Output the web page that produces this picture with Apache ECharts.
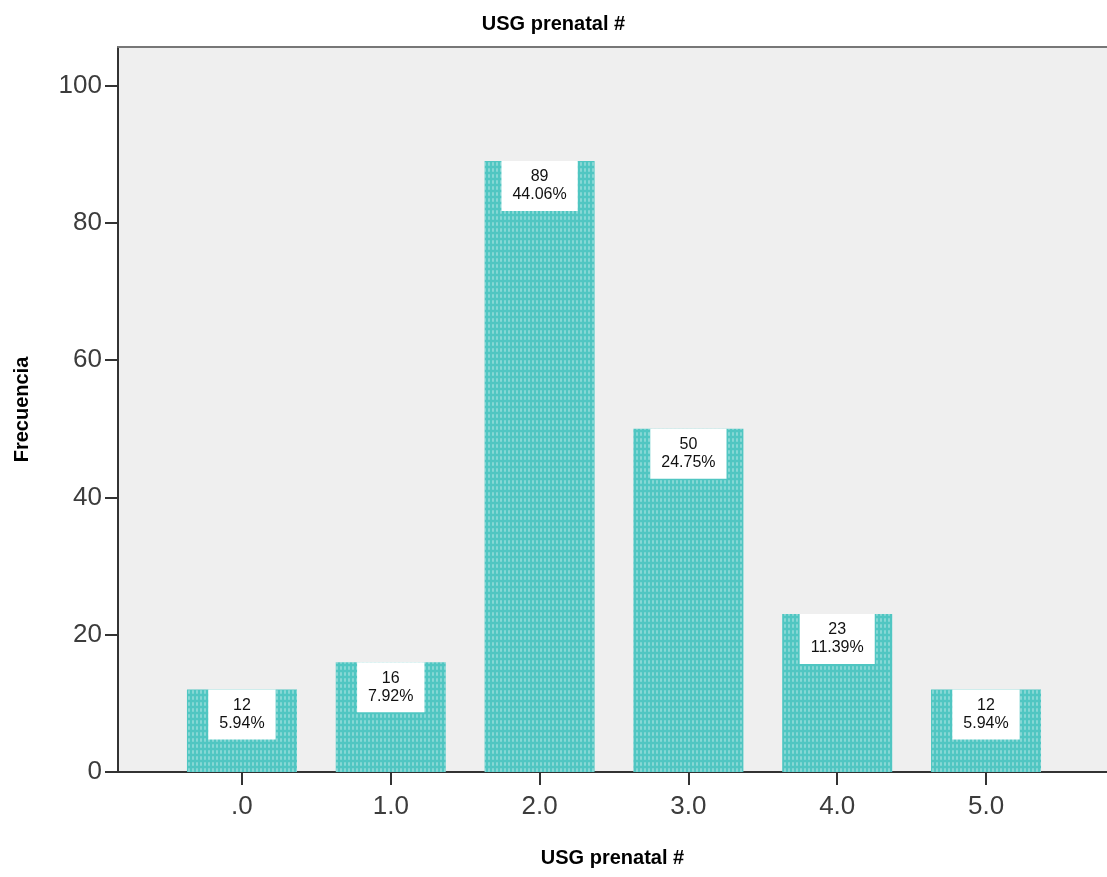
<!DOCTYPE html>
<html>
<head>
<meta charset="utf-8">
<script src="https://cdn.jsdelivr.net/npm/echarts@6/dist/echarts.min.js"></script>
<style>html,body{margin:0;padding:0;background:#fff}#c{width:1107px;height:877px}</style>
</head>
<body>
<div id="c"></div>
<script>
const categories = [0, 1, 2, 3, 4, 5];
const tickLabels = ['.0', '1.0', '2.0', '3.0', '4.0', '5.0'];
const counts = [12, 16, 89, 50, 23, 12];
const percents = ['5.94%', '7.92%', '44.06%', '24.75%', '11.39%', '5.94%'];
const yTicks = [0, 20, 40, 60, 80, 100];

const chart = echarts.init(document.getElementById('c'), null, {renderer: 'canvas'});
const font = 'Liberation Sans, Arial, sans-serif';
chart.setOption({
  animation: false,
  title: {
    text: 'USG prenatal #', left: 'center', top: 9,
    textStyle: {fontFamily: font, fontSize: 20, fontWeight: 'bold', color: '#000'}
  },
  grid: {
    left: 118, right: 0, top: 47, bottom: 105,
    show: true, backgroundColor: '#efefef', borderWidth: 0
  },
  xAxis: [{
    type: 'value', min: -0.833, max: 5.813,
    name: 'USG prenatal #', nameLocation: 'middle', nameGap: 76,
    nameTextStyle: {fontFamily: font, fontSize: 20, fontWeight: 'bold', color: '#000'},
    splitLine: {show: false},
    axisLine: {show: true, onZero: false, lineStyle: {color: '#333', width: 2}},
    axisTick: {show: true, length: 13, lineStyle: {color: '#333', width: 2}, customValues: categories},
    axisLabel: {
      customValues: categories, margin: 22,
      fontFamily: font, fontSize: 26, color: '#3c3c3c',
      formatter: v => tickLabels[categories.indexOf(Math.round(v))]
    }
  }, {
    type: 'value', position: 'top', min: 0, max: 1,
    axisLine: {show: true, onZero: false, lineStyle: {color: '#777', width: 2}},
    axisTick: {show: false}, axisLabel: {show: false}, splitLine: {show: false}
  }],
  yAxis: {
    type: 'value', min: 0, max: 105.6,
    name: 'Frecuencia', nameLocation: 'middle', nameGap: 86,
    nameTextStyle: {fontFamily: font, fontSize: 20, fontWeight: 'bold', color: '#000'},
    splitLine: {show: false},
    axisLine: {show: true, onZero: false, lineStyle: {color: '#333', width: 2}},
    axisTick: {show: true, length: 13, lineStyle: {color: '#333', width: 2}, customValues: yTicks},
    axisLabel: {customValues: yTicks, margin: 16, fontFamily: font, fontSize: 26, color: '#3c3c3c'}
  },
  series: [{
    type: 'bar',
    barWidth: 110,
    data: categories.map((c, i) => [c, counts[i]]),
    itemStyle: {
      color: '#50c6c2',
      decal: {
        symbol: 'rect', symbolSize: 0.9,
        color: 'rgba(255,255,255,0.35)',
        dashArrayX: [2, 2], dashArrayY: [4, 2], rotation: 0
      }
    },
    label: {
      show: true, position: 'insideTop', distance: 0,
      backgroundColor: '#fff', padding: [7, 11, 7, 11],
      fontFamily: font, fontSize: 16, lineHeight: 18, color: '#111', align: 'center',
      formatter: p => counts[p.dataIndex] + '\n' + percents[p.dataIndex]
    }
  }]
});
</script>
</body>
</html>
